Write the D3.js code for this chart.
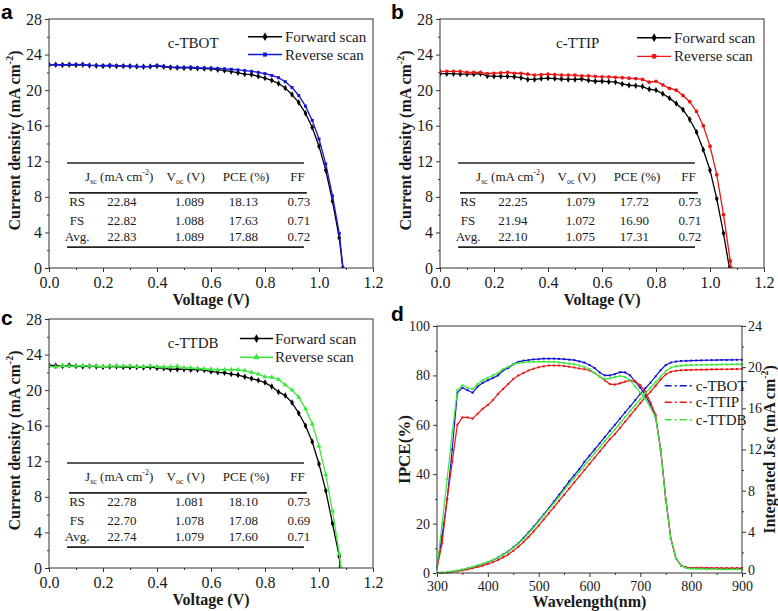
<!DOCTYPE html>
<html><head><meta charset="utf-8">
<script src="https://cdn.jsdelivr.net/npm/d3@7"></script>
<style>
body{margin:0;background:#fff}
svg{display:block}
text{font-family:"Liberation Serif","Times New Roman",serif;fill:#1a1a1a}
.lbl{font-family:"Liberation Sans",Arial,sans-serif;font-weight:bold;fill:#000}
</style>
</head><body>
<svg id="chart" width="778" height="611"></svg>
<script>
// ---------------- DATA ----------------
const voltage = [0,0.025,0.05,0.075,0.1,0.125,0.15,0.175,0.2,0.225,0.25,0.275,0.3,0.325,0.35,0.375,0.4,0.425,0.45,0.475,0.5,0.525,0.55,0.575,0.6,0.625,0.65,0.675,0.7,0.725,0.75,0.775,0.8,0.825,0.85,0.875,0.9,0.925,0.95,0.975,1.0,1.025,1.05,1.075];
const voltTicks = [0,0.2,0.4,0.6,0.8,1.0,1.2];
const voltMinor = [0.1,0.3,0.5,0.7,0.9,1.1];
const jTicks = [0,4,8,12,16,20,24,28];
const jMinor = [2,6,10,14,18,22,26];

// c-TBOT
const tbotForward = [22.85,22.85,22.83,22.85,22.82,22.85,22.78,22.75,22.72,22.75,22.7,22.7,22.68,22.65,22.62,22.65,22.72,22.62,22.55,22.52,22.5,22.5,22.45,22.42,22.4,22.3,22.2,22.1,21.95,21.8,21.75,21.55,21.35,21.1,20.75,20.25,19.5,18.6,17.4,15.8,13.7,11.0,7.5,3.4];
const tbotReverse = [22.85,22.88,22.85,22.9,22.88,22.9,22.8,22.78,22.75,22.8,22.75,22.72,22.7,22.68,22.65,22.68,22.78,22.68,22.6,22.58,22.55,22.58,22.52,22.5,22.48,22.45,22.4,22.35,22.28,22.2,22.12,22.0,21.85,21.65,21.4,20.95,20.3,19.4,18.2,16.6,14.5,11.7,8.1,3.9];
// c-TTIP
const ttipForward = [21.85,21.85,21.85,21.8,21.8,21.8,21.85,21.6,21.55,21.55,21.55,21.5,21.4,21.2,21.2,21.3,21.35,21.3,21.25,21.2,21.2,21.25,21.1,21.0,21.0,20.95,20.9,20.7,20.55,20.5,20.4,20.1,20.0,19.6,19.1,18.5,17.8,16.7,15.3,13.3,11.0,7.8,3.9,-1];
const ttipReverse = [22.1,22.1,22.1,22.1,22.0,22.0,22.0,21.85,21.9,21.95,22.0,21.9,21.9,21.8,21.7,21.75,21.8,21.75,21.7,21.7,21.7,21.6,21.6,21.55,21.5,21.5,21.45,21.4,21.35,21.3,21.2,20.9,21.0,20.6,20.2,20.0,19.4,18.7,17.6,16.0,13.7,10.5,6.0,0.8];
// c-TTDB
const ttdbForward = [22.8,22.75,22.7,22.8,22.7,22.65,22.7,22.65,22.6,22.65,22.65,22.6,22.6,22.6,22.55,22.6,22.5,22.45,22.35,22.35,22.35,22.3,22.3,22.25,22.1,22.0,21.95,21.8,21.7,21.5,21.3,21.1,20.85,20.4,19.8,19.4,18.6,17.4,16.0,14.2,11.7,8.7,5.0,1.3];
const ttdbReverse = [22.7,22.6,22.75,22.7,22.7,22.75,22.7,22.7,22.65,22.7,22.7,22.7,22.7,22.65,22.65,22.7,22.65,22.6,22.6,22.7,22.5,22.5,22.45,22.4,22.35,22.3,22.3,22.3,22.3,22.2,22.0,21.8,21.5,21.45,21.2,20.6,20.0,19.2,17.9,16.2,13.7,10.5,6.4,1.6];

const tableHeader = ["Jsc","Voc (V)","PCE (%)","FF"];
const tableTBOT = [["RS","22.84","1.089","18.13","0.73"],["FS","22.82","1.088","17.63","0.71"],["Avg.","22.83","1.089","17.88","0.72"]];
const tableTTIP = [["RS","22.25","1.079","17.72","0.73"],["FS","21.94","1.072","16.90","0.71"],["Avg.","22.10","1.075","17.31","0.72"]];
const tableTTDB = [["RS","22.78","1.081","18.10","0.73"],["FS","22.70","1.078","17.08","0.69"],["Avg.","22.74","1.079","17.60","0.71"]];
const vocTBOT = {fwd:1.088, rev:1.089};
const vocTTIP = {fwd:1.072, rev:1.079};
const vocTTDB = {fwd:1.078, rev:1.081};

// IPCE panel
const wavelength = [300,310,320,330,340,350,360,370,380,390,400,410,420,430,440,450,460,470,480,490,500,510,520,530,540,550,560,570,580,590,600,610,620,630,640,650,660,670,680,690,700,710,720,730,740,750,760,770,780,790,800,810,820,830,840,850,860,870,880,890,900];
const wlTicks = [300,400,500,600,700,800,900];
const wlMinor = [350,450,550,650,750,850];
const ipceTicks = [0,20,40,60,80,100];
const ipceMinor = [10,30,50,70,90];
const jscTicks = [0,4,8,12,16,20,24];
const jscMinor = [2,6,10,14,18,22];
const ipceTBOT = [2,15,30,50,73,75,74,73,75.5,77,78,79,80,82,83,84.5,85.5,86,86.2,86.5,86.6,86.8,86.8,86.8,86.7,86.6,86.4,86.2,85.7,85.2,84.2,83,81.2,80,80,80.5,81.3,81.2,80,77.5,75,72,68,63,50,30,14,6,3,2.2,2,2,1.9,1.9,1.9,1.9,1.8,1.8,1.8,1.8,1.8];
const ipceTTIP = [2,12,30,45,60,63,63,62.5,64.5,66.5,68,70,72.5,74.5,76.5,78.5,80,81,82,82.7,83.3,83.7,84,84,84,83.8,83.5,83.2,82.8,82.5,82,81,79.5,78,76.5,76.3,76.8,77.5,78,77.5,76,73.5,69,64,50,30,14,6,3,2.3,2.1,2.1,2.1,2.1,2,2,2,2,2,2,2];
const ipceTTDB = [2,20,38,57,74,76,75,74.5,76.5,78,79,80,81,82.5,83.5,84.5,85,85.3,85.5,85.5,85.6,85.6,85.5,85.5,85.3,85,84.8,84.5,84,83.3,82.5,81,79.5,78.5,78.8,79.3,79.8,79.3,78,75.5,73,70.5,67,63,50,30,14,6,3,2,1.8,1.7,1.7,1.6,1.6,1.6,1.5,1.5,1.5,1.5,1.5];
const intTBOT = [0,0.02,0.06,0.12,0.2,0.3,0.42,0.55,0.7,0.87,1.05,1.25,1.5,1.8,2.1,2.5,2.9,3.4,3.95,4.5,5.1,5.7,6.3,6.95,7.6,8.25,8.9,9.5,10.1,10.8,11.4,12.0,12.6,13.2,13.8,14.4,15.0,15.6,16.2,16.8,17.4,17.95,18.5,19.1,19.7,20.2,20.45,20.55,20.6,20.62,20.64,20.65,20.66,20.67,20.68,20.69,20.7,20.7,20.71,20.72,20.72];
const intTTIP = [0,0.02,0.05,0.1,0.17,0.25,0.35,0.46,0.58,0.72,0.87,1.05,1.27,1.52,1.8,2.15,2.55,3.0,3.5,4.05,4.6,5.2,5.8,6.4,7.0,7.6,8.2,8.8,9.4,10.0,10.6,11.2,11.8,12.4,13.0,13.5,14.1,14.7,15.3,15.9,16.5,17.1,17.6,18.2,18.8,19.3,19.55,19.65,19.7,19.72,19.74,19.75,19.76,19.77,19.78,19.79,19.8,19.8,19.81,19.82,19.82];
const intTTDB = [0,0.03,0.08,0.15,0.24,0.34,0.46,0.59,0.74,0.9,1.07,1.27,1.5,1.78,2.08,2.45,2.85,3.3,3.85,4.4,5.0,5.6,6.2,6.8,7.4,8.05,8.65,9.25,9.85,10.45,11.05,11.65,12.2,12.8,13.4,13.95,14.55,15.15,15.75,16.3,16.9,17.45,18.0,18.55,19.1,19.6,19.95,20.1,20.15,20.18,20.2,20.21,20.22,20.23,20.24,20.25,20.26,20.27,20.28,20.28,20.28];
const ipceNames = ["c-TBOT","c-TTIP","c-TTDB"];

// ---------------- DRAW ----------------
const svg = d3.select("#chart");
const BLUE = "#1515d8", RED = "#ee1414", GREEN = "#3be83b";

function styleAxis(sel, fs) {
  sel.select(".domain").remove();
  sel.selectAll(".tick line").attr("stroke", "#333").attr("stroke-width", 1);
  sel.selectAll("text").attr("font-size", fs).attr("font-family", '"Liberation Serif",serif').attr("fill", "#1a1a1a");
}

function addAxes(g, x, y, box, xt, xm, yt, ym, xfmt, fs, xpad) {
  g.append("g").attr("transform", `translate(0,${box.b})`)
    .call(d3.axisBottom(x).tickValues(xt).tickFormat(xfmt).tickSize(4).tickPadding(xpad))
    .call(s => styleAxis(s, fs));
  g.append("g").attr("transform", `translate(0,${box.b})`)
    .call(d3.axisBottom(x).tickValues(xm).tickFormat("").tickSize(2))
    .call(s => styleAxis(s, fs));
  g.append("g").attr("transform", `translate(${box.l},0)`)
    .call(d3.axisLeft(y).tickValues(yt).tickFormat(d3.format("d")).tickSize(4).tickPadding(3))
    .call(s => styleAxis(s, fs));
  g.append("g").attr("transform", `translate(${box.l},0)`)
    .call(d3.axisLeft(y).tickValues(ym).tickFormat("").tickSize(2))
    .call(s => styleAxis(s, fs));
}

function frame(g, box) {
  g.append("rect").attr("x", box.l).attr("y", box.t).attr("width", box.r - box.l).attr("height", box.b - box.t)
    .attr("fill", "none").attr("stroke", "#333").attr("stroke-width", 1);
}

function yTitle(g, cx, cy, main, fs) {
  const t = g.append("text").attr("transform", `translate(${cx},${cy}) rotate(-90)`)
    .attr("text-anchor", "middle").attr("font-weight", "bold").attr("font-size", fs).attr("dy", "0.35em");
  t.append("tspan").text(main);
  t.append("tspan").attr("font-size", fs * 0.62).attr("dy", -fs * 0.4).text("-2");
  t.append("tspan").attr("dy", fs * 0.4).text(")");
  return t;
}

function jvPanel(p) {
  const box = p.box;
  const x = d3.scaleLinear().domain([0, 1.2]).range([box.l, box.r]);
  const y = d3.scaleLinear().domain([0, 28]).range([box.b, box.t]);
  const g = svg.append("g");
  const clipId = "clip" + p.label;
  g.append("clipPath").attr("id", clipId).append("rect")
    .attr("x", box.l).attr("y", box.t - 2).attr("width", box.r - box.l).attr("height", box.b - box.t + 2);

  addAxes(g, x, y, box, voltTicks, voltMinor, jTicks, jMinor, d3.format(".1f"), 16, 5);

  // table
  const tb = g.append("g");
  const hl = (x1, x2, j, w) => tb.append("line").attr("x1", x(x1)).attr("x2", x(x2)).attr("y1", y(j)).attr("y2", y(j))
    .attr("stroke", "#222").attr("stroke-width", w);
  hl(0.067, 0.944, 11.8, 1.6);
  hl(0.074, 0.955, 8.45, 1.6);
  hl(0.067, 0.944, 2.35, 1.6);
  const colX = [0.104, 0.27, 0.52, 0.72, 0.925];
  const hdrX = [0.26, 0.506, 0.73, 0.92];
  const fs = 13;
  const h0 = tb.append("text").attr("x", x(hdrX[0])).attr("y", y(9.75)).attr("text-anchor", "middle").attr("font-size", fs);
  h0.append("tspan").text(tableHeader[0].charAt(0));
  h0.append("tspan").attr("font-size", 8).attr("dy", 3).text(tableHeader[0].slice(1));
  h0.append("tspan").attr("dy", -3).text(" (mA cm");
  h0.append("tspan").attr("font-size", 8).attr("dy", -6).text("-2");
  h0.append("tspan").attr("dy", 6).text(")");
  const h1 = tb.append("text").attr("x", x(hdrX[1])).attr("y", y(9.75)).attr("text-anchor", "middle").attr("font-size", fs);
  h1.append("tspan").text("V");
  h1.append("tspan").attr("font-size", 8).attr("dy", 3).text("oc");
  h1.append("tspan").attr("dy", -3).text(tableHeader[1].slice(3));
  tb.append("text").attr("x", x(hdrX[2])).attr("y", y(9.75)).attr("text-anchor", "middle").attr("font-size", fs).text(tableHeader[2]);
  tb.append("text").attr("x", x(hdrX[3])).attr("y", y(9.75)).attr("text-anchor", "middle").attr("font-size", fs).text(tableHeader[3]);
  const rowJ = [7.0, 4.85, 3.05];
  p.table.forEach((row, ri) => {
    row.forEach((cell, ci) => {
      tb.append("text").attr("x", x(colX[ci])).attr("y", y(rowJ[ri])).attr("text-anchor", "middle")
        .attr("font-size", fs).text(cell);
    });
  });

  // curves
  const curves = [
    {vals: p.fwd, voc: p.voc.fwd, color: "#000", sym: d3.symbolDiamond, size: 12},
    {vals: p.rev, voc: p.voc.rev, color: p.revColor, sym: p.revSym, size: p.revSize}
  ];
  const line = d3.line().x(d => x(d[0])).y(d => y(d[1]));
  const cg = g.append("g").attr("clip-path", `url(#${clipId})`);
  curves.forEach(c => {
    const pts = voltage.map((v, i) => [v, c.vals[i]]).filter(d => d[1] >= 0 && d[0] < c.voc);
    pts.push([c.voc, 0]);
    cg.append("path").attr("d", line(pts)).attr("fill", "none").attr("stroke", c.color).attr("stroke-width", 1.3);
    cg.selectAll(null).data(pts).enter().append("path")
      .attr("d", d3.symbol().type(c.sym).size(c.size))
      .attr("transform", d => `translate(${x(d[0])},${y(d[1])})`)
      .attr("fill", c.color);
  });

  frame(g, box);

  // sample label
  g.append("text").attr("x", x(p.sampleX)).attr("y", y(24.75)).attr("font-size", 15).text(p.sample);
  // legend
  const lg = p.legend;
  [["Forward scan", lg.jF, curves[0]], ["Reverse scan", lg.jR, curves[1]]].forEach(([name, jj, c]) => {
    g.append("line").attr("x1", x(lg.x1)).attr("x2", x(lg.x2)).attr("y1", y(jj)).attr("y2", y(jj))
      .attr("stroke", c.color).attr("stroke-width", 1.4);
    g.append("path").attr("d", d3.symbol().type(c.sym).size(c.size * 1.8))
      .attr("transform", `translate(${(x(lg.x1) + x(lg.x2)) / 2},${y(jj)})`).attr("fill", c.color);
    g.append("text").attr("x", x(lg.tx)).attr("y", y(jj)).attr("dy", "0.33em").attr("font-size", 15).text(name);
  });

  // axis titles
  g.append("text").attr("x", (box.l + box.r) / 2).attr("y", box.b + 37).attr("text-anchor", "middle")
    .attr("font-weight", "bold").attr("font-size", 16).text("Voltage (V)");
  yTitle(g, p.ytx, (box.t + box.b) / 2 - 3, "Current density (mA cm", 16);

  svg.append("text").attr("class", "lbl").attr("x", p.lx).attr("y", p.ly).attr("font-size", 21).text(p.label);
}

jvPanel({label: "a", lx: 1, ly: 19, box: {l: 49, t: 19, r: 373, b: 268}, ytx: 14,
  sample: "c-TBOT", sampleX: 0.44, fwd: tbotForward, rev: tbotReverse, voc: vocTBOT, table: tableTBOT,
  revColor: BLUE, revSym: d3.symbolSquare, revSize: 9,
  legend: {x1: 0.737, x2: 0.863, tx: 0.874, jF: 26.0, jR: 24.0}});
jvPanel({label: "b", lx: 391, ly: 19, box: {l: 440, t: 19, r: 764, b: 268}, ytx: 405,
  sample: "c-TTIP", sampleX: 0.43, fwd: ttipForward, rev: ttipReverse, voc: vocTTIP, table: tableTTIP,
  revColor: RED, revSym: d3.symbolCircle, revSize: 11,
  legend: {x1: 0.73, x2: 0.856, tx: 0.867, jF: 25.9, jR: 23.8}});
jvPanel({label: "c", lx: 1, ly: 325, box: {l: 49, t: 319, r: 373, b: 568}, ytx: 14,
  sample: "c-TTDB", sampleX: 0.44, fwd: ttdbForward, rev: ttdbReverse, voc: vocTTDB, table: tableTTDB,
  revColor: GREEN, revSym: d3.symbolTriangle, revSize: 11,
  legend: {x1: 0.707, x2: 0.83, tx: 0.837, jF: 25.8, jR: 23.7}});

// ---- panel d ----
(function () {
  const box = {l: 437, t: 326, r: 742, b: 573};
  const x = d3.scaleLinear().domain([300, 900]).range([box.l, box.r]);
  const yl = d3.scaleLinear().domain([0, 100]).range([box.b, box.t]);
  const yr = d3.scaleLinear().domain([0, 24]).range([box.b, box.t]);
  const g = svg.append("g");
  addAxes(g, x, yl, box, wlTicks, wlMinor, ipceTicks, ipceMinor, d3.format("d"), 14, 4);
  g.append("g").attr("transform", `translate(${box.r},0)`)
    .call(d3.axisRight(yr).tickValues(jscTicks).tickFormat(d3.format("d")).tickSize(4).tickPadding(2))
    .call(s => styleAxis(s, 14))
    .call(s => s.selectAll(".tick").filter(d => d === 0).select("text").attr("y", -3));
  g.append("g").attr("transform", `translate(${box.r},0)`)
    .call(d3.axisRight(yr).tickValues(jscMinor).tickFormat("").tickSize(2))
    .call(s => styleAxis(s, 14));

  const series = [
    {ipce: ipceTBOT, integ: intTBOT, color: BLUE},
    {ipce: ipceTTIP, integ: intTTIP, color: RED},
    {ipce: ipceTTDB, integ: intTTDB, color: GREEN}
  ];
  series.forEach(s => {
    [[s.ipce, yl], [s.integ, yr]].forEach(([vals, ys]) => {
      const pts = wavelength.map((w, i) => [w, vals[i]]);
      g.append("path").attr("d", d3.line().x(d => x(d[0])).y(d => ys(d[1]))(pts))
        .attr("fill", "none").attr("stroke", s.color).attr("stroke-width", 1.2);
      g.selectAll(null).data(pts).enter().append("rect")
        .attr("x", d => x(d[0]) - 1).attr("y", d => ys(d[1]) - 1).attr("width", 2).attr("height", 2)
        .attr("fill", s.color);
    });
  });
  frame(g, box);

  // legend
  const legY = [18.2, 16.6, 14.9];
  series.forEach((s, i) => {
    g.append("line").attr("x1", x(748)).attr("x2", x(806)).attr("y1", yr(legY[i])).attr("y2", yr(legY[i]))
      .attr("stroke", s.color).attr("stroke-width", 1.5).attr("stroke-dasharray", "7,3,2,3");
    g.append("text").attr("x", x(809)).attr("y", yr(legY[i])).attr("dy", "0.33em").attr("font-size", 15).text(ipceNames[i]);
  });

  g.append("text").attr("x", (box.l + box.r) / 2).attr("y", box.b + 34).attr("text-anchor", "middle")
    .attr("font-weight", "bold").attr("font-size", 16).text("Wavelength(nm)");
  g.append("text").attr("transform", `translate(404,${(box.t + box.b) / 2}) rotate(-90)`).attr("text-anchor", "middle")
    .attr("dy", "0.35em").attr("font-weight", "bold").attr("font-size", 17).text("IPCE(%)");
  yTitle(g, 769, (box.t + box.b) / 2, "Integrated Jsc (mA cm", 16);
  svg.append("text").attr("class", "lbl").attr("x", 391).attr("y", 321).attr("font-size", 21).text("d");
})();
</script>
</body></html>
